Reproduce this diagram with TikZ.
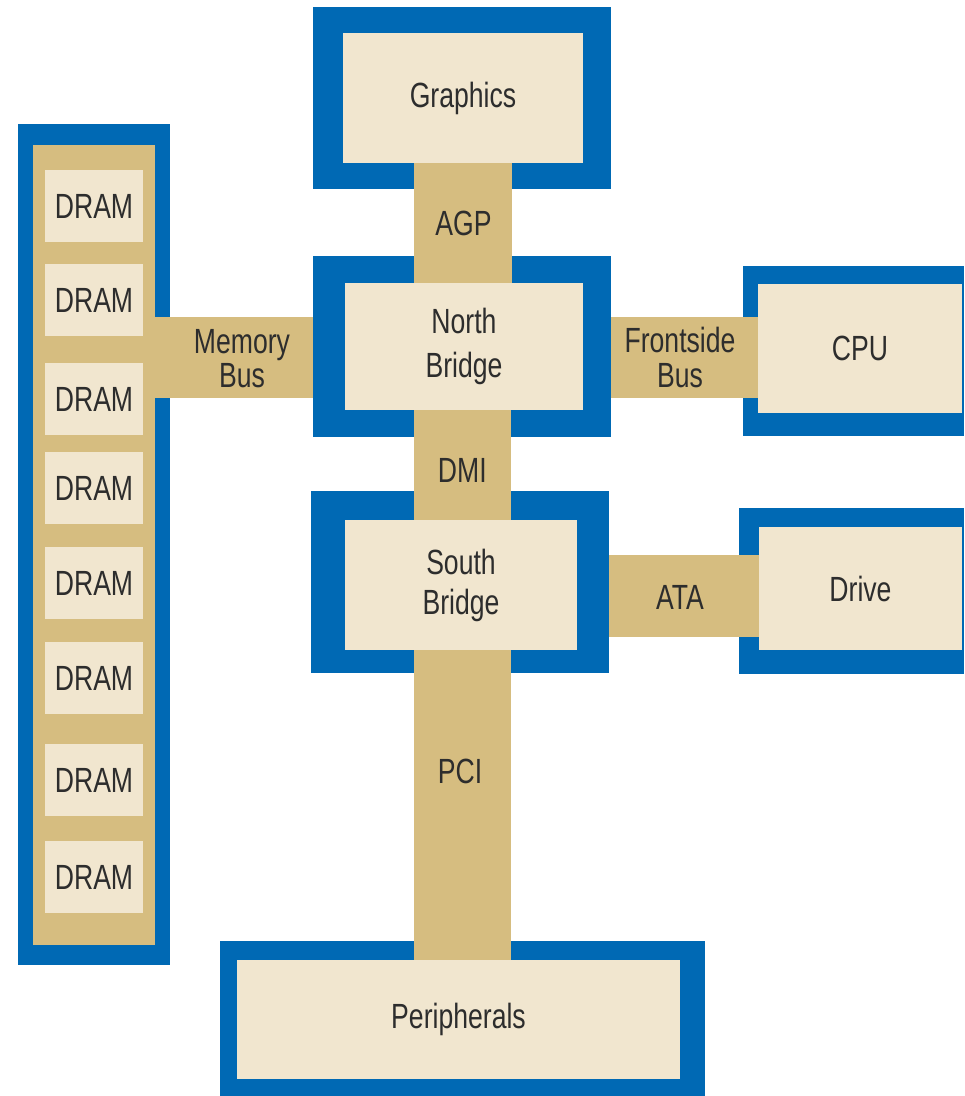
\documentclass[tikz,border=0pt]{standalone}
\usepackage{fontspec}
\setmainfont[FakeStretch=0.76]{Liberation Sans}
\usetikzlibrary{calc}
\definecolor{edgeblue}{RGB}{0,105,180}
\definecolor{bustan}{RGB}{214,189,128}
\definecolor{boxcream}{RGB}{241,230,207}
\definecolor{txtgray}{RGB}{45,45,45}
\tikzset{
  frame/.style={fill=edgeblue,inner sep=0pt},
  bus/.style={fill=bustan},
  box/.style={fill=boxcream,inner sep=0pt,align=center,text=txtgray},
  lbl/.style={align=center,text=txtgray,inner sep=0pt},
}

\begin{document}
\begin{tikzpicture}[x=.5pt,y=-.5pt,
  every node/.style={font=\fontsize{17.5}{20}\selectfont}]
  \useasboundingbox (0,0) rectangle (964,1096);
  % blue frames
  \node[frame,minimum width=149pt,minimum height=91pt] (gfxf) at (462,98) {};
  \node[frame,minimum width=149pt,minimum height=90.5pt] (nbf) at (462,346.5) {};
  \node[frame,minimum width=110.5pt,minimum height=85pt] (cpuf) at (853.5,351) {};
  \node[frame,minimum width=149pt,minimum height=91pt] (sbf) at (460,582) {};
  \node[frame,minimum width=112.5pt,minimum height=83pt] (drvf) at (851.5,591) {};
  \node[frame,minimum width=242.5pt,minimum height=77.5pt] (perf) at (462.5,1018.5) {};
  \node[frame,minimum width=76pt,minimum height=420.5pt] (memf) at (94,544.5) {};
  \node[fill=bustan,inner sep=0pt,minimum width=61pt,minimum height=400pt] (mem) at (94,545) {};
  % inner boxes
  \node[box,minimum width=120pt,minimum height=65pt] (gfx) at (463,98) {Graphics};
  \node[box,minimum width=119pt,minimum height=63.5pt,
    font=\fontsize{17.5}{22}\selectfont] (nb) at (464,346.5) {North\\Bridge};
  \node[box,minimum width=102pt,minimum height=64.5pt] (cpu) at (860,348.5) {CPU};
  \node[box,minimum width=116pt,minimum height=65pt] (sb) at (461,585) {South\\Bridge};
  \node[box,minimum width=101.5pt,minimum height=61.5pt] (drv) at (860.5,588.5) {Drive};
  \node[box,minimum width=221.5pt,minimum height=59.5pt] (per) at (458.5,1019.5) {Peripherals};
  % buses
  \fill[bus] ($(nbf.west -| mem.east)+(0,-29.5)$) rectangle ($(nbf.west)+(0,51.5)$);
  \fill[bus] ($(nbf.east)+(0,-29.5)$) rectangle ($(nbf.east -| cpu.west)+(0,51.5)$);
  \fill[bus] ($(sbf.east)+(0,-27)$) rectangle ($(sbf.east -| drv.west)+(0,55)$);
  \fill[bus] ($(gfx.south)+(-49,0)$) rectangle ($(nb.north)+(48,0)$);
  \fill[bus] ($(nb.south)+(-50,0)$) rectangle ($(sb.north)+(50,0)$);
  \fill[bus] ($(sb.south)+(-47,0)$) rectangle ($(per.north)+(52.5,0)$);
  % DRAM modules
  \foreach \y [count=\i] in {206,300,399,488,583,678,780,877}
    \node[box,minimum width=49pt,minimum height=36pt] (dram\i) at (94,\y) {DRAM};
  % bus labels
  \node[lbl,font=\fontsize{17.5}{17}\selectfont] (membus) at (242,359) {Memory\\Bus};
  \node[lbl,font=\fontsize{17.5}{17.5}\selectfont] (fsb) at (680,357) {Frontside\\Bus};
  \node[lbl] (agp) at ($(gfx.south)!.5!(nb.north)$) {AGP};
  \node[lbl] (dmi) at ($(nb.south)!.55!(sb.north)$) {DMI};
  \node[lbl] (ata) at (680,597) {ATA};
  \node[lbl] (pci) at ($(sb.south)!.39!(per.north)$) {PCI};
\end{tikzpicture}
\end{document}
